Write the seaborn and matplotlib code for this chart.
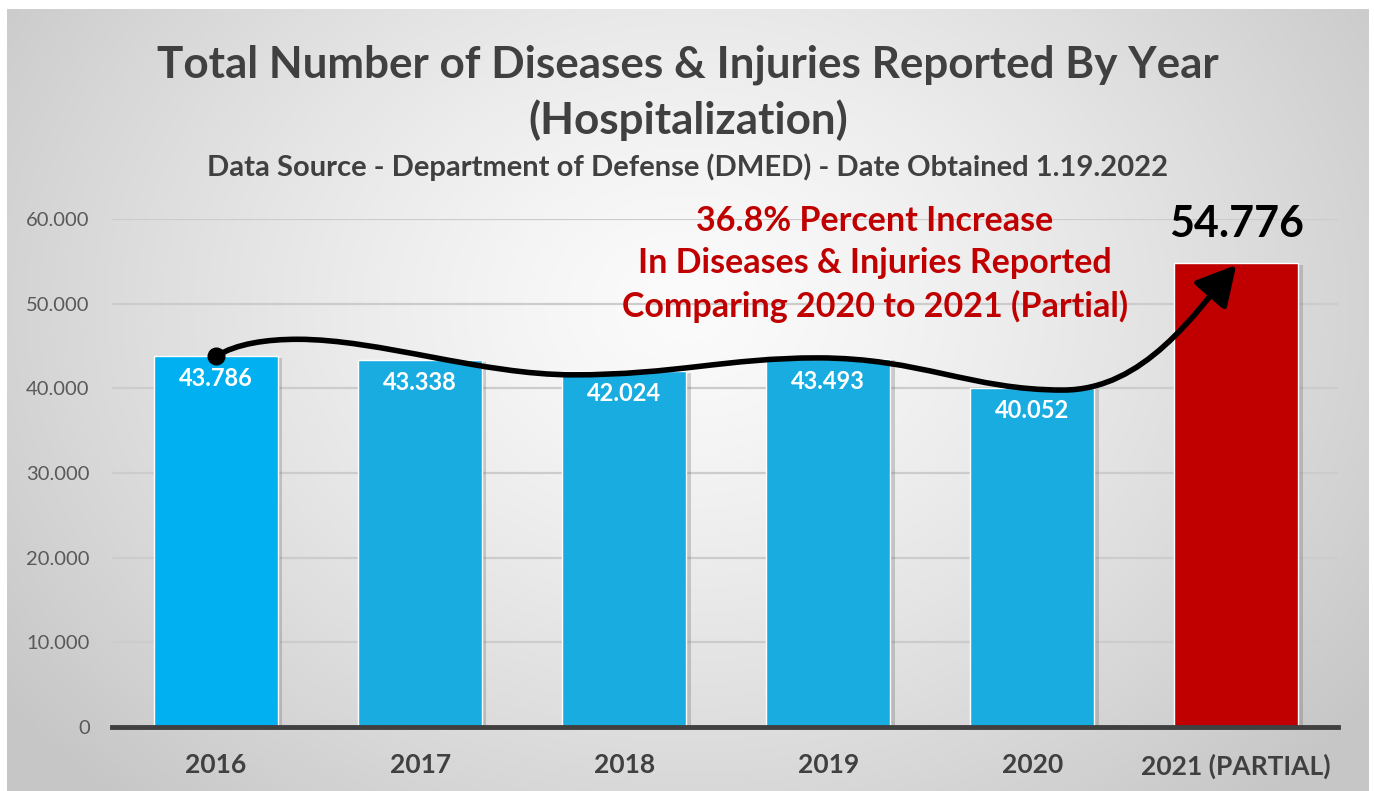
import numpy as np
import pandas as pd
import seaborn as sns
import matplotlib.pyplot as plt
import matplotlib.patheffects as pe
from matplotlib.path import Path
from matplotlib.patches import FancyArrowPatch

# data
years = ["2016", "2017", "2018", "2019", "2020", "2021 (PARTIAL)"]
cases = [43786, 43338, 42024, 43493, 40052, 54776]
bar_colors = ["#00B0F0", "#19ACE0", "#19ACE0", "#19ACE0", "#19ACE0", "#C00000"]
yticks = [0, 10000, 20000, 30000, 40000, 50000, 60000]

title = "Total Number of Diseases & Injuries Reported By Year\n(Hospitalization)"
subtitle = "Data Source - Department of Defense (DMED) - Date Obtained 1.19.2022"
note = "36.8% Percent Increase\nIn Diseases & Injuries Reported\nComparing 2020 to 2021 (Partial)"

df = pd.DataFrame({"Year": years, "Cases": cases})

sns.set_theme(style="white")
plt.rcParams["font.family"] = ["Lato", "DejaVu Sans"]

fig = plt.figure(figsize=(13.74, 7.91), dpi=100, facecolor="white")

# radial gray background
bg = fig.add_axes([0.005, 0.0, 0.9906, 0.9886], zorder=-10)
gx, gy = np.meshgrid(np.linspace(0, 1, 400), np.linspace(0, 1, 300))
r = np.sqrt(((gx - 0.5) / 0.62) ** 2 + ((gy - 0.62) / 0.85) ** 2)
t = np.clip(r, 0, 1) ** 1.3
shade = 0.985 * (1 - t) + 0.78 * t
bg.imshow(np.dstack([shade, shade, shade]), origin="lower", aspect="auto",
          extent=[0, 1, 0, 1])
bg.axis("off")

ax = fig.add_axes([0.0815, 0.081, 0.8925, 0.642])
ax.set_facecolor("none")

sns.barplot(data=df, x="Year", y="Cases", hue="Year", palette=bar_colors,
            saturation=1, legend=False, width=0.61, ax=ax, zorder=3,
            edgecolor="white", linewidth=1)
for p in ax.patches:
    p.set_path_effects([pe.SimplePatchShadow(offset=(3, -1), shadow_rgbFace="#555555", alpha=0.25),
                        pe.Normal()])

ax.set_ylim(0, 60000)
ax.set_xlim(-0.51, 5.5)
ax.set_yticks(yticks)
ax.set_yticklabels([f"{v:,}".replace(",", ".") for v in yticks])
ax.yaxis.grid(True, color="#CCCCCC", lw=1.6, zorder=0)
ax.set_axisbelow(True)
ax.set_xlabel("")
ax.set_ylabel("")
for s in ["top", "right", "left"]:
    ax.spines[s].set_visible(False)
ax.spines["bottom"].set_color("#404040")
ax.spines["bottom"].set_linewidth(3.5)
ax.spines["bottom"].set_zorder(4)
ax.tick_params(axis="y", length=0, pad=16, labelsize=14.5, labelcolor="#595959")
ax.tick_params(axis="x", length=0, pad=19, labelsize=19, labelcolor="#404040")
for lbl in ax.get_xticklabels():
    lbl.set_fontweight("bold")

# value labels
for i, v in enumerate(cases[:-1]):
    ax.annotate(f"{v:,}".replace(",", "."), (i, v), xytext=(0, -16),
                textcoords="offset points", ha="center", va="center",
                color="white", fontsize=17, fontweight="bold", zorder=6)
ax.annotate(f"{cases[-1]:,}".replace(",", "."), (5, cases[-1]), xytext=(0, 28),
            textcoords="offset points", ha="center", va="center",
            color="black", fontsize=31, fontweight="bold", annotation_clip=False)

# wavy arrow from 2016 to 2021
verts = [(0, cases[0]),
         (0.1, 45300), (0.25, 45800), (0.4, 45800),
         (0.8, 45800), (1.3, 41600), (1.75, 41600),
         (2.25, 41600), (2.5, 43600), (2.95, 43600),
         (3.45, 43600), (3.7, 39800), (4.15, 39800),
         (4.55, 39800), (4.8, 49000), (5.0, cases[-1] - 200)]
codes = [Path.MOVETO] + [Path.CURVE4] * 15
arrow = FancyArrowPatch(path=Path(verts, codes), arrowstyle="-|>,head_length=1.2,head_width=0.65",
                        mutation_scale=20, lw=4, color="black", zorder=7)
ax.add_patch(arrow)
ax.plot(0, cases[0], "o", color="black", ms=12, zorder=8)

ax.text(3.23, 54700, note, ha="center", va="center", color="#C00000",
        fontsize=24.5, fontweight="bold", linespacing=1.4, zorder=6)

fig.text(0.5007, 0.883, title, ha="center", va="center", color="#404040",
         fontsize=31.7, fontweight="bold", linespacing=1.4)
fig.text(0.5007, 0.789, subtitle, ha="center", va="center", color="#404040",
         fontsize=21, fontweight="bold")

fig.savefig("out.png", dpi=100)
